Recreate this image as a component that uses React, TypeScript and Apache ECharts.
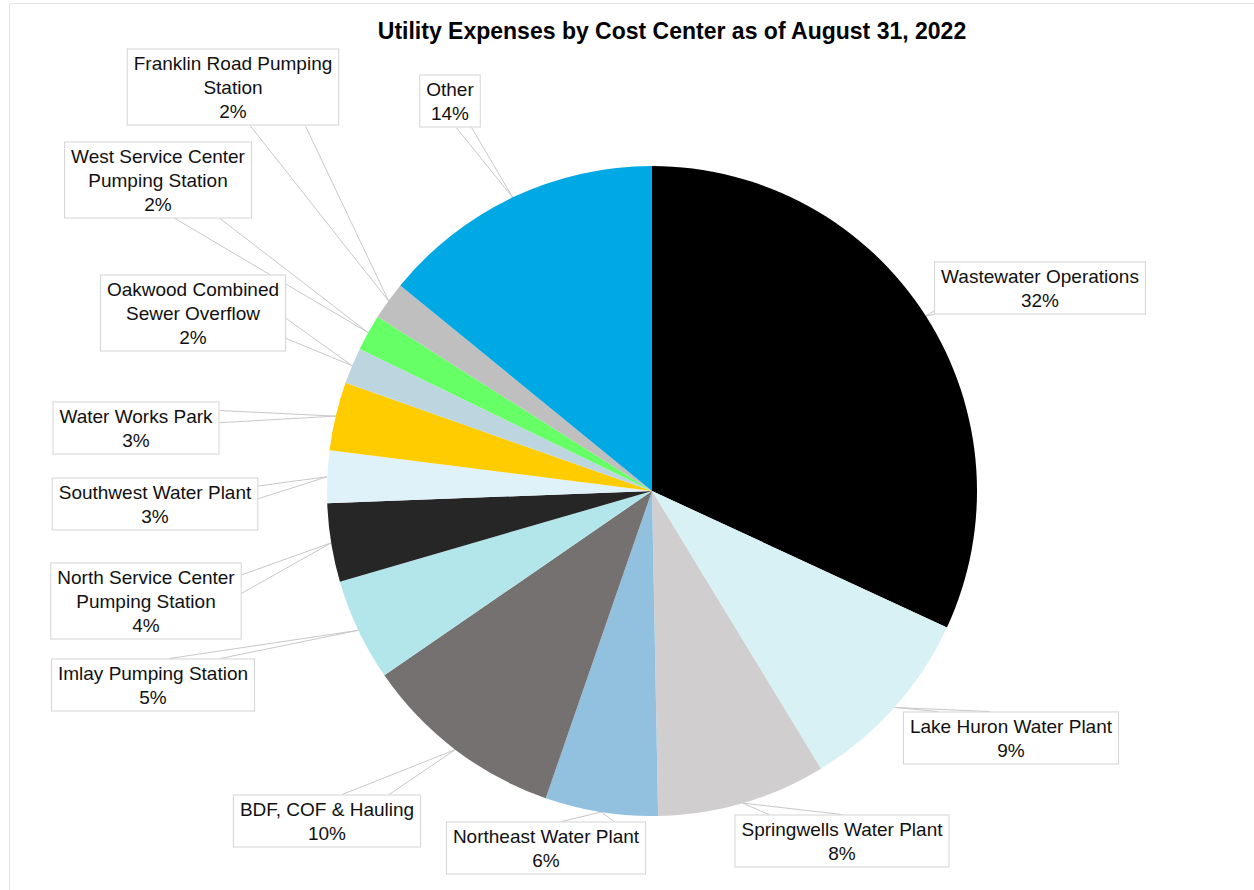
import React, { useEffect, useRef } from "react";
import * as echarts from "echarts";

const TITLE = "Utility Expenses by Cost Center as of August 31, 2022";

const categories = [
  "Wastewater Operations",
  "Lake Huron Water Plant",
  "Springwells Water Plant",
  "Northeast Water Plant",
  "BDF, COF & Hauling",
  "Imlay Pumping Station",
  "North Service Center\nPumping Station",
  "Southwest Water Plant",
  "Water Works Park",
  "Oakwood Combined\nSewer Overflow",
  "West Service Center\nPumping Station",
  "Franklin Road Pumping\nStation",
  "Other",
];

// share of utility expenses, percent
const shares = [31.9, 9.4, 8.4, 5.6, 10.1, 5.1, 3.9, 2.6, 3.4, 1.8, 1.8, 1.9, 14.1];

const colors = [
  "#000000",
  "#d8f1f4",
  "#d0cece",
  "#92c1e0",
  "#757171",
  "#b2e6ea",
  "#262626",
  "#dff2fa",
  "#ffcc00",
  "#bdd5df",
  "#66ff66",
  "#bfbfbf",
  "#00a8e4",
];

// label box centres and where leader lines leave the box (layout only)
const labelBoxes = [
  { x: 1040, y: 288, side: "left", f: [0.93, 1.0] },
  { x: 1011, y: 738, side: "top", f: [0.16, 0.4] },
  { x: 842, y: 841, side: "top", f: [0.16, 0.5] },
  { x: 546, y: 848, side: "top", f: [0.58, 0.84] },
  { x: 327, y: 821, side: "top", f: [0.58, 0.83] },
  { x: 153, y: 685, side: "top", f: [0.58, 0.83] },
  { x: 146, y: 601, side: "right", f: [0.16, 0.4] },
  { x: 155, y: 504, side: "right", f: [0.16, 0.4] },
  { x: 136, y: 428, side: "right", f: [0.17, 0.4] },
  { x: 193, y: 313, side: "right", f: [0.57, 0.83] },
  { x: 158, y: 180, side: "bottom", f: [0.59, 0.83] },
  { x: 233, y: 87, side: "bottom", f: [0.58, 0.84] },
  { x: 450, y: 101, side: "bottom", f: [0.6, 0.85] },
];

export default function App() {
  const ref = useRef<HTMLDivElement>(null);

  useEffect(() => {
    if (!ref.current) return;
    const chart = echarts.init(ref.current, null, { renderer: "svg" });
    const font = "'Liberation Sans', Arial, sans-serif";
    chart.setOption({
      animation: false,
      backgroundColor: "#ffffff",
      title: {
        text: TITLE,
        left: 667,
        top: 14,
        textAlign: "center",
        textStyle: {
          fontFamily: font,
          fontSize: 23,
          fontWeight: "bold",
          color: "#000000",
        },
      },
      graphic: [
        {
          type: "rect",
          shape: { x: 9.5, y: 3.5, width: 1300, height: 1000 },
          style: { fill: "none", stroke: "#e3e3e3", lineWidth: 1 },
          silent: true,
        },
      ],
      series: [
        {
          type: "pie",
          center: [652, 491],
          radius: 325,
          startAngle: 90,
          clockwise: true,
          percentPrecision: 0,
          avoidLabelOverlap: false,
          data: categories.map((name, i) => ({
            name,
            value: shares[i],
            itemStyle: { color: colors[i] },
          })),
          itemStyle: { borderWidth: 0 },
          label: {
            show: true,
            position: "outside",
            formatter: "{b}\n{d}%",
            fontFamily: font,
            fontSize: 19,
            lineHeight: 24,
            color: "#111111",
            backgroundColor: "#ffffff",
            borderColor: "#d4d4d4",
            borderWidth: 1,
            padding: [2, 6, 1, 6],
            align: "center",
          },
          labelLine: {
            show: true,
            smooth: false,
            lineStyle: { color: "#c8c8c8", width: 1 },
          },
          labelLayout: (p: any) => {
            const b = labelBoxes[p.dataIndex];
            const w = p.labelRect.width;
            const h = p.labelRect.height;
            const left = b.x - w / 2;
            const top = b.y - h / 2;
            const anchor =
              p.labelLinePoints && p.labelLinePoints[0]
                ? p.labelLinePoints[0]
                : [b.x, b.y];
            const pts = b.f.map((f: number) => {
              if (b.side === "bottom") return [left + f * w, top + h];
              if (b.side === "top") return [left + f * w, top];
              if (b.side === "right") return [left + w, top + f * h];
              return [left, top + f * h];
            });
            return {
              x: b.x,
              y: b.y,
              align: "center",
              verticalAlign: "middle",
              labelLinePoints: [pts[0], anchor, pts[1]],
            };
          },
          emphasis: { disabled: true },
        },
      ],
    });
    return () => chart.dispose();
  }, []);

  return (
    <div
      ref={ref}
      style={{ position: "fixed", left: 0, top: 0, width: 1254, height: 890 }}
    />
  );
}
